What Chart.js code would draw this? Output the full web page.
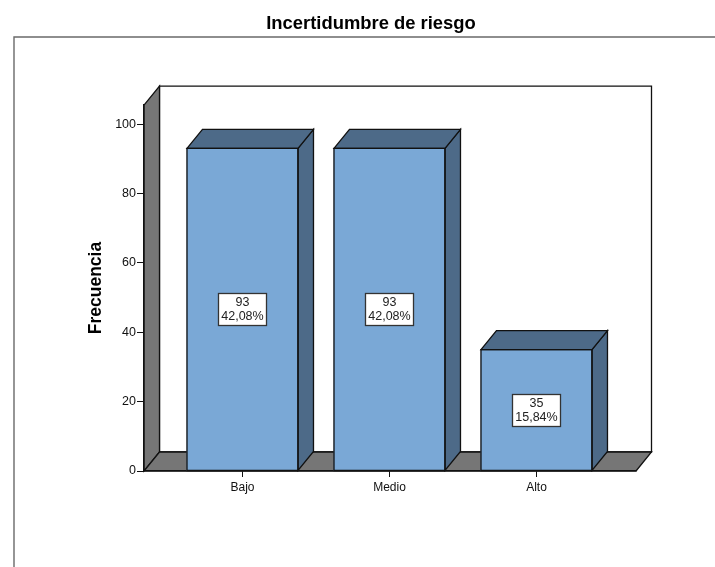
<!DOCTYPE html>
<html><head><meta charset="utf-8">
<style>html,body{margin:0;padding:0;background:#fff}canvas{display:block}</style>
<script src="https://cdn.jsdelivr.net/npm/chart.js@4"></script>
</head><body><canvas id="c" width="715" height="567"></canvas>
<script>
const categories = ['Bajo', 'Medio', 'Alto'];
const counts = [93, 93, 35];
const percents = ['42,08%', '42,08%', '15,84%'];
const yTickValues = [0, 20, 40, 60, 80, 100];
const chartTitle = 'Incertidumbre de riesgo';
const yTitle = 'Frecuencia';

const DEPTH_X = 15.5, DEPTH_Y = -19;
const INK = '#111', WALL = '#767676', FACE = '#7aa8d6', SIDE = '#4d6a88';

function poly(ctx, pts, fill) {
  ctx.beginPath();
  pts.forEach((p, i) => i ? ctx.lineTo(p[0], p[1]) : ctx.moveTo(p[0], p[1]));
  ctx.closePath();
  if (fill) { ctx.fillStyle = fill; ctx.fill(); }
  ctx.strokeStyle = INK; ctx.lineWidth = 1.3; ctx.stroke();
}

const box3d = {
  id: 'box3d',
  beforeDraw(chart) {
    const { ctx, chartArea: a } = chart;
    ctx.save();
    ctx.strokeStyle = '#6a6a6a'; ctx.lineWidth = 1.4;
    ctx.beginPath();
    ctx.moveTo(14, chart.height); ctx.lineTo(14, 37); ctx.lineTo(chart.width, 37);
    ctx.stroke();
    const dx = DEPTH_X, dy = DEPTH_Y;
    poly(ctx, [[a.left + dx, a.top + dy], [a.right + dx, a.top + dy], [a.right + dx, a.bottom + dy], [a.left + dx, a.bottom + dy]], '#fff');
    poly(ctx, [[a.left, a.top], [a.left + dx, a.top + dy], [a.left + dx, a.bottom + dy], [a.left, a.bottom]], WALL);
    poly(ctx, [[a.left, a.bottom], [a.right, a.bottom], [a.right + dx, a.bottom + dy], [a.left + dx, a.bottom + dy]], WALL);
    ctx.restore();
  },
  afterDatasetsDraw(chart) {
    const { ctx } = chart;
    const dx = DEPTH_X, dy = DEPTH_Y;
    ctx.save();
    chart.getDatasetMeta(0).data.forEach((bar, i) => {
      const p = bar.getProps(['x', 'y', 'base', 'width'], true);
      const l = p.x - p.width / 2, r = p.x + p.width / 2;
      poly(ctx, [[r, p.y], [r + dx, p.y + dy], [r + dx, p.base + dy], [r, p.base]], SIDE);
      poly(ctx, [[l, p.y], [l + dx, p.y + dy], [r + dx, p.y + dy], [r, p.y]], SIDE);
      poly(ctx, [[l, p.y], [r, p.y], [r, p.base], [l, p.base]], null);
      // value label
      const cy = (p.y + p.base) / 2;
      ctx.font = '12.5px "Liberation Sans"';
      const w = ctx.measureText(percents[i]).width + 6, h = 32;
      ctx.fillStyle = '#fff'; ctx.strokeStyle = '#333'; ctx.lineWidth = 1.3;
      ctx.fillRect(p.x - w / 2, cy - h / 2, w, h);
      ctx.strokeRect(Math.round(p.x - w / 2) + .5, Math.round(cy - h / 2) + .5, Math.round(w), h);
      ctx.fillStyle = '#222'; ctx.textAlign = 'center'; ctx.textBaseline = 'middle';
      ctx.fillText(String(counts[i]), p.x, cy - 7);
      ctx.fillText(percents[i], p.x, cy + 7);
    });
    ctx.restore();
  }
};

Chart.defaults.font.family = '"Liberation Sans", Arial, sans-serif';
new Chart(document.getElementById('c'), {
  type: 'bar',
  data: {
    datasets: [{
      data: counts.map((v, i) => ({ x: i, y: v })),
      backgroundColor: FACE,
      borderWidth: 0,
      barThickness: 111
    }]
  },
  options: {
    responsive: false,
    animation: false,
    layout: { padding: { top: 13, left: 106, right: 79, bottom: 0 } },
    plugins: {
      legend: { display: false },
      tooltip: { enabled: false },
      title: {
        display: true, text: chartTitle, color: '#000',
        font: { size: 18.4, weight: 'bold' }, padding: { top: 0, bottom: 70 }
      }
    },
    scales: {
      x: {
        type: 'linear', min: -0.67, max: 2.677, offset: false,
        afterBuildTicks(s) { s.ticks = categories.map((_, i) => ({ value: i })); },
        afterFit(s) { s.height = 96; },
        grid: { offset: false, drawOnChartArea: false, drawTicks: true, tickLength: 6, color: INK },
        border: { display: true, color: INK, width: 1.3 },
        ticks: { callback: v => categories[v], color: '#111', font: { size: 12 }, padding: 3, maxRotation: 0, autoSkip: false }
      },
      y: {
        min: 0, max: 105.5,
        afterBuildTicks(s) { s.ticks = yTickValues.map(v => ({ value: v })); },
        afterFit(s) { s.width = 38; },
        grid: { drawOnChartArea: false, drawTicks: true, tickLength: 7, color: INK },
        border: { display: true, color: INK, width: 1.3 },
        ticks: { color: '#111', font: { size: 12.5 }, padding: 1 },
        title: { display: true, text: yTitle, color: '#000', font: { size: 17.5, weight: 'bold' }, padding: { top: -20, bottom: 0 } }
      }
    }
  },
  plugins: [box3d]
});
</script></body></html>
